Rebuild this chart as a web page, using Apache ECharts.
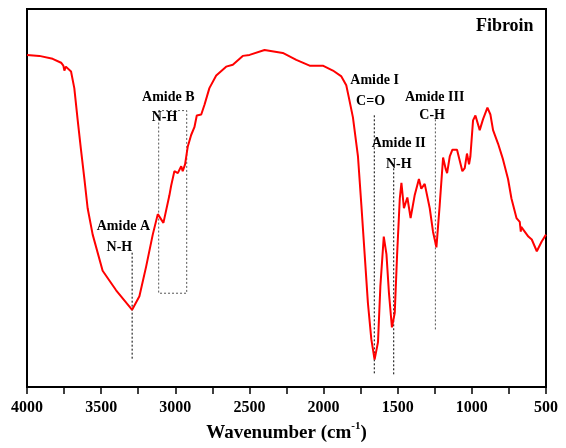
<!DOCTYPE html>
<html><head><meta charset="utf-8">
<script src="https://cdn.jsdelivr.net/npm/echarts@6/dist/echarts.min.js"></script>
<style>html,body{margin:0;padding:0;background:#fff;overflow:hidden}#c{width:566px;height:448px}</style>
</head><body><div id="c"></div>
<script>
// FTIR spectrum of Fibroin (wavenumber in cm-1, transmittance in arbitrary units)
var wavenumbers = [4000,3917,3827,3770,3755,3748,3738,3726,3703,3681,3658,3636,3613,3591,3557,3490,3399,3291,3242,3197,3152,3118,3080,3040,3028,3006,2983,2960,2950,2934,2916,2893,2871,2855,2825,2803,2770,2724,2657,2612,2545,2499,2398,2275,2184,2094,2005,1937,1880,1847,1829,1802,1768,1745,1723,1701,1678,1656,1633,1617,1594,1576,1559,1539,1520,1504,1486,1475,1458,1435,1413,1386,1357,1341,1318,1284,1262,1239,1217,1194,1176,1167,1149,1131,1100,1064,1048,1033,1019,1010,992,976,947,925,895,875,857,823,790,756,733,699,677,670,667,619,596,562,529,500];
var transmittance = [340,339,336,332,329,324,328,329,323,306,273,243,213,183,156,119,99,79,93,123,156,177,168,196,206,221,219,226,221,228,246,258,266,278,279,289,306,319,328,330,339,340,345,342,335,329,329,324,318,309,296,276,236,186,136,86,49,28,46,103,154,136,96,61,76,136,193,209,183,194,173,196,213,203,208,183,159,143,186,235,223,219,236,243,243,221,224,239,228,236,273,278,263,274,286,279,263,249,233,213,193,173,169,159,164,154,151,139,149,156];
var xTicks = [4000,3500,3000,2500,2000,1500,1000,500];

// band assignments: marker wavenumber, dashed line bottom/top (transmittance units)
var bandNames  = ["Amide A","Amide I","Amide II","Amide III"];
var bandWn     = [3291,1658,1527,1246];
var bandLow    = [29,14,13,59];
var bandHigh   = [138,279,229,276];
// Amide B box
var boxWn  = [3112,2923];
var boxLow = 96, boxHigh = 283;

// text labels
var labelTexts = ["Amide A","N-H","Amide B","N-H","Amide I","C=O","Amide II","N-H","Amide III","C-H"];
var labelWn    = [3350,3377,3047,3073,1656,1683,1493,1493,1251,1268];
var labelT     = [164,143,297,276,314,292,249,228,297,278];
var titleText = "Fibroin", titleWn = 778, titleT = 369;

var FONT = '"Liberation Serif","Times New Roman",serif';
var chart = echarts.init(document.getElementById('c'));
var spectrum = wavenumbers.map(function(w,i){return [w, transmittance[i]];});

var series = [{
  type:'line', data: spectrum, showSymbol:false, symbol:'none',
  lineStyle:{color:'#ff0000', width:2}, z:5, animation:false
}];
bandNames.forEach(function(n,i){
  series.push({type:'line', data:[[bandWn[i],bandLow[i]],[bandWn[i],bandHigh[i]]], symbol:'none',
    lineStyle:{color: i===3 ? '#555' : '#000', width:1, type:[2,2]}, z:3, animation:false});
});
series.push({type:'line', symbol:'none', animation:false, z:3,
  data:[[boxWn[0],boxHigh],[boxWn[0],boxLow],[boxWn[1],boxLow],[boxWn[1],boxHigh],[boxWn[0],boxHigh]],
  lineStyle:{color:'#555', width:1, type:[2,2]}});
var lblStyle = function(size){return {show:true, position:'inside', formatter:function(p){return p.name;},
    fontFamily:FONT, fontWeight:'bold', fontSize:size, color:'#000', opacity:1};};
series.push({type:'scatter', symbolSize:0, animation:false, z:10, itemStyle:{opacity:1},
  data: labelTexts.map(function(t,i){return {value:[labelWn[i],labelT[i]], name:t};}),
  label: lblStyle(14)});
series.push({type:'scatter', symbolSize:0, animation:false, z:10, itemStyle:{opacity:1},
  data:[{value:[titleWn,titleT], name:titleText}], label: lblStyle(18)});

chart.setOption({
  animation:false,
  grid:{left:27, right:20, top:9, bottom:52, show:true, borderColor:'#000', borderWidth:2},
  xAxis:{type:'value', inverse:true, min:500, max:4000, interval:500,
    axisLine:{show:true, lineStyle:{color:'#000', width:2}},
    axisTick:{show:true, length:7, lineStyle:{color:'#000', width:1.5}},
    minorTick:{show:true, splitNumber:2, length:7, lineStyle:{color:'#000', width:1.5}},
    splitLine:{show:false},
    axisLabel:{margin:13, fontFamily:FONT, fontWeight:'bold', fontSize:16, color:'#000',
      formatter:function(v){return xTicks.indexOf(v)>=0 ? String(v) : '';}},
    name:'{a|Wavenumber (cm}{s|-1}{a|)}', nameLocation:'middle', nameGap:34,
    nameTextStyle:{rich:{
      a:{fontFamily:FONT, fontWeight:'bold', fontSize:19, color:'#000', verticalAlign:'bottom', lineHeight:22},
      s:{fontFamily:FONT, fontWeight:'bold', fontSize:11, color:'#000', verticalAlign:'top', lineHeight:22, padding:[0,0,10,0]}}}
  },
  yAxis:{type:'value', min:0, max:387, axisLine:{show:true, lineStyle:{color:'#000', width:2}},
    axisTick:{show:false}, axisLabel:{show:false}, splitLine:{show:false}},
  series: series
});
</script></body></html>
